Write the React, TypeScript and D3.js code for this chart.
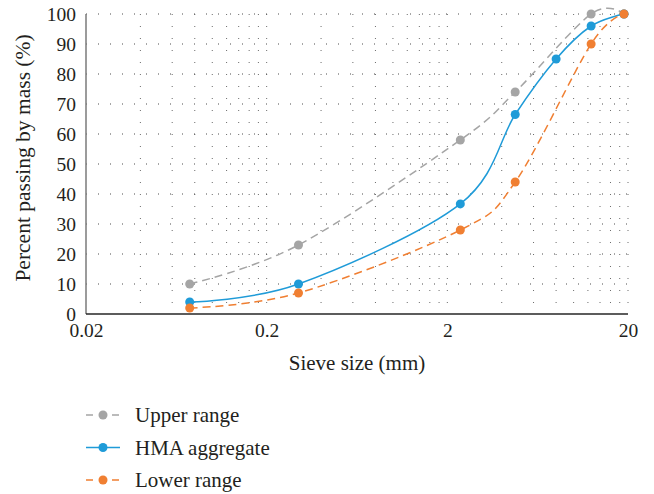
import React, { useEffect, useRef } from 'react';
import * as d3 from 'd3';

// sieve sizes (mm) and percent passing
const sieveSizes = [0.075, 0.3, 2.36, 4.75, 8, 12.5, 19];
const upperRange = [10, 23, 58, 74, null, 100, 100];
const hmaAggregate = [4, 10, 36.7, 66.5, 85, 96, 100];
const lowerRange = [2, 7, 28, 44, null, 90, 100];

const xTicks = [0.02, 0.2, 2, 20];
const yTicks = [0, 10, 20, 30, 40, 50, 60, 70, 80, 90, 100];

const series = [
  { name: 'Upper range', values: upperRange, color: '#a5a5a5', dash: '8,5' },
  { name: 'HMA aggregate', values: hmaAggregate, color: '#1f9bd8', dash: null },
  { name: 'Lower range', values: lowerRange, color: '#f07f32', dash: '8,5' },
];

const App = () => {
  const svgRef = useRef(null);

  useEffect(() => {
    const W = 654;
    const H = 494;
    const margin = { top: 14, right: 26, bottom: 180, left: 86 };
    const width = W - margin.left - margin.right;
    const height = H - margin.top - margin.bottom;
    const font = '"Liberation Serif", "DejaVu Serif", serif';

    const svg = d3.select(svgRef.current);
    svg.selectAll('*').remove();
    svg.attr('width', W).attr('height', H).attr('viewBox', `0 0 ${W} ${H}`)
      .style('font-family', font);

    svg.append('rect').attr('width', W).attr('height', H).attr('fill', '#fff');

    const g = svg.append('g').attr('transform', `translate(${margin.left}, ${margin.top})`);

    const xScale = d3.scaleLog().domain([0.02, 20]).range([0, width]);
    const yScale = d3.scaleLinear().domain([0, 100]).range([height, 0]);

    // minor log gridlines (multiples of each decade start)
    const minorX = [];
    xTicks.slice(0, -1).forEach(b => {
      for (let k = 2; k <= 10; k++) minorX.push(b * k);
    });

    g.append('g')
      .selectAll('line')
      .data(minorX)
      .enter()
      .append('line')
      .attr('x1', d => xScale(d))
      .attr('x2', d => xScale(d))
      .attr('y1', 0)
      .attr('y2', height)
      .attr('stroke', '#6b6b6b')
      .attr('stroke-width', 1)
      .attr('stroke-dasharray', '1,11');

    g.append('g')
      .selectAll('line')
      .data(yTicks.filter(d => d > 0))
      .enter()
      .append('line')
      .attr('x1', 0)
      .attr('x2', width)
      .attr('y1', d => yScale(d))
      .attr('y2', d => yScale(d))
      .attr('stroke', '#4d4d4d')
      .attr('stroke-width', 1)
      .attr('stroke-dasharray', '1,11')
      .attr('stroke-dashoffset', -12);

    // axes
    const yAxis = g.append('g')
      .call(d3.axisLeft(yScale).tickValues(yTicks).tickSize(0).tickPadding(10));
    yAxis.attr('font-family', null).attr('font-size', null);
    yAxis.select('.domain').remove();
    yAxis.selectAll('text')
      .style('font-family', font)
      .style('font-size', '19.5px')
      .attr('fill', '#231f20');

    const xAxis = g.append('g')
      .attr('transform', `translate(0, ${height})`)
      .call(d3.axisBottom(xScale).tickValues(xTicks).tickFormat(d3.format('')).tickSize(0).tickPadding(9));
    xAxis.attr('font-family', null).attr('font-size', null);
    xAxis.select('.domain').remove();
    xAxis.selectAll('text')
      .style('font-family', font)
      .style('font-size', '19.5px')
      .attr('fill', '#231f20');

    g.append('line')
      .attr('x1', 0).attr('x2', 0)
      .attr('y1', 0).attr('y2', height)
      .attr('stroke', '#7a7a7a')
      .attr('stroke-width', 1.5);

    g.append('line')
      .attr('x1', 0).attr('x2', width)
      .attr('y1', height).attr('y2', height)
      .attr('stroke', '#262626')
      .attr('stroke-width', 1.5);

    // series
    const line = d3.line()
      .defined(d => d[1] != null)
      .x(d => xScale(d[0]))
      .y(d => yScale(d[1]))
      .curve(d3.curveCatmullRom.alpha(0));

    series.forEach(s => {
      const pts = sieveSizes.map((x, i) => [x, s.values[i]]).filter(d => d[1] != null);
      g.append('path')
        .datum(pts)
        .attr('d', line)
        .attr('fill', 'none')
        .attr('stroke', s.color)
        .attr('stroke-width', 1.5)
        .attr('stroke-dasharray', s.dash);

      g.append('g')
        .selectAll('circle')
        .data(pts)
        .enter()
        .append('circle')
        .attr('cx', d => xScale(d[0]))
        .attr('cy', d => yScale(d[1]))
        .attr('r', 4.5)
        .attr('fill', s.color);
    });

    // axis titles
    svg.append('text')
      .attr('x', margin.left + width / 2)
      .attr('y', 370)
      .attr('text-anchor', 'middle')
      .style('font-size', '21px')
      .attr('fill', '#231f20')
      .text('Sieve size (mm)');

    svg.append('text')
      .attr('transform', 'translate(30, 158) rotate(-90)')
      .attr('text-anchor', 'middle')
      .style('font-size', '21.5px')
      .attr('fill', '#231f20')
      .text('Percent passing by mass (%)');

    // legend
    const legend = svg.append('g').attr('transform', 'translate(86, 415)');
    series.forEach((s, i) => {
      const row = legend.append('g').attr('transform', `translate(0, ${i * 32.5})`);
      row.append('line')
        .attr('x1', 0).attr('x2', 34)
        .attr('y1', 0).attr('y2', 0)
        .attr('stroke', s.color)
        .attr('stroke-width', 1.5)
        .attr('stroke-dasharray', s.dash ? '7,6' : null);
      row.append('circle')
        .attr('cx', 17).attr('cy', 0)
        .attr('r', 4.5)
        .attr('fill', s.color);
      row.append('text')
        .attr('x', 49)
        .attr('y', 7)
        .style('font-size', '21px')
        .attr('fill', '#231f20')
        .text(s.name);
    });
  }, []);

  return (
    <svg ref={svgRef} style={{ position: 'absolute', left: 0, top: 0 }}></svg>
  );
};

export default App;
